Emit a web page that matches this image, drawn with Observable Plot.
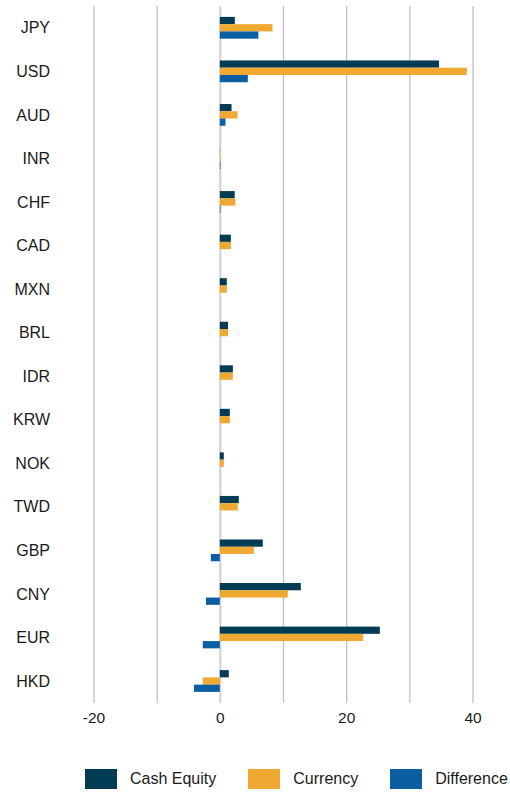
<!DOCTYPE html>
<html>
<head>
<meta charset="utf-8">
<script src="https://cdn.jsdelivr.net/npm/d3@7"></script>
<script src="https://cdn.jsdelivr.net/npm/@observablehq/plot@0.6"></script>
<style>
  html, body { margin: 0; padding: 0; background: #fff; }
  body { width: 510px; font-family: "Liberation Sans", Arial, sans-serif; }
  #chart svg { display: block; }
  .legend { display: flex; align-items: center; margin-top: 29px; padding-left: 85px; height: 20px; font-size: 16px; color: #1a1a1a; white-space: nowrap; }
  .item { display: flex; align-items: center; margin-right: 32px; }
  .sw { width: 32px; height: 20px; margin-right: 13px; }
</style>
</head>
<body>
<div id="chart"></div>
<div class="legend" id="legend"></div>
<script>
const currencies = ["JPY","USD","AUD","INR","CHF","CAD","MXN","BRL","IDR","KRW","NOK","TWD","GBP","CNY","EUR","HKD"];
const cashEquity = [2.37, 34.7, 1.85, 0.02, 2.35, 1.74, 1.1, 1.3, 2.06, 1.58, 0.63, 3.0, 6.8, 12.82, 25.33, 1.42];
const currencyVals = [8.34, 39.1, 2.8, 0.12, 2.45, 1.74, 1.1, 1.3, 2.06, 1.58, 0.63, 2.85, 5.38, 10.76, 22.7, -2.7];
const difference = [6.1, 4.43, 0.9, 0.1, 0.1, 0, 0, 0, 0, 0, 0, 0, -1.42, -2.2, -2.7, -4.1];
const seriesNames = ["Cash Equity", "Currency", "Difference"];
const seriesColors = ["#003d55", "#efa831", "#0c5ea3"];
const xTicks = [-20, -10, 0, 10, 20, 30, 40];
const xLabelTicks = [-20, 0, 20, 40];

const seriesValues = [cashEquity, currencyVals, difference];
const rows = seriesValues.map((vals, i) =>
  currencies.map((c, j) => ({currency: c, series: seriesNames[i], value: vals[j]}))
);

const yRange = [16.9, 691.9];
const yPadding = 0.5;
const step = (yRange[1] - yRange[0]) / (currencies.length - yPadding);
const bw = step * (1 - yPadding);
const third = bw / 3;

const W = 510, H = 740;
const plot = Plot.plot({
  width: W,
  height: H,
  marginLeft: 93.5,
  marginRight: 37.5,
  marginTop: 6,
  marginBottom: 37,
  style: {fontFamily: "'Liberation Sans', Arial, sans-serif", background: "#fff"},
  x: {domain: [-20, 40], label: null},
  y: {domain: currencies, range: yRange, paddingInner: yPadding, paddingOuter: 0, round: false, label: null},
  color: {domain: seriesNames, range: seriesColors},
  marks: [
    Plot.gridX(xTicks, {stroke: "#bdbdbd", strokeOpacity: 1, strokeWidth: 1.2}),
    Plot.ruleX([0], {stroke: "#d2d2d2", strokeWidth: 2}),
    ...rows.map((data, i) => Plot.barX(data, {
      x: "value", y: "currency", fill: "series",
      insetTop: i * third, insetBottom: (2 - i) * third
    })),
    Plot.axisX(xLabelTicks, {
      tickSize: 0, tickPadding: 8, fontSize: 15.5, fill: "#1a1a1a", label: null,
      tickFormat: d => String(d)
    }),
    Plot.axisY({tickSize: 0, tickPadding: 44, fontSize: 16, fill: "#1a1a1a", label: null})
  ]
});
document.getElementById("chart").appendChild(plot);

const legend = document.getElementById("legend");
seriesNames.forEach((name, i) => {
  const item = document.createElement("div");
  item.className = "item";
  const sw = document.createElement("div");
  sw.className = "sw";
  sw.style.background = seriesColors[i];
  const label = document.createElement("span");
  label.textContent = name;
  item.appendChild(sw);
  item.appendChild(label);
  legend.appendChild(item);
});
</script>
</body>
</html>
